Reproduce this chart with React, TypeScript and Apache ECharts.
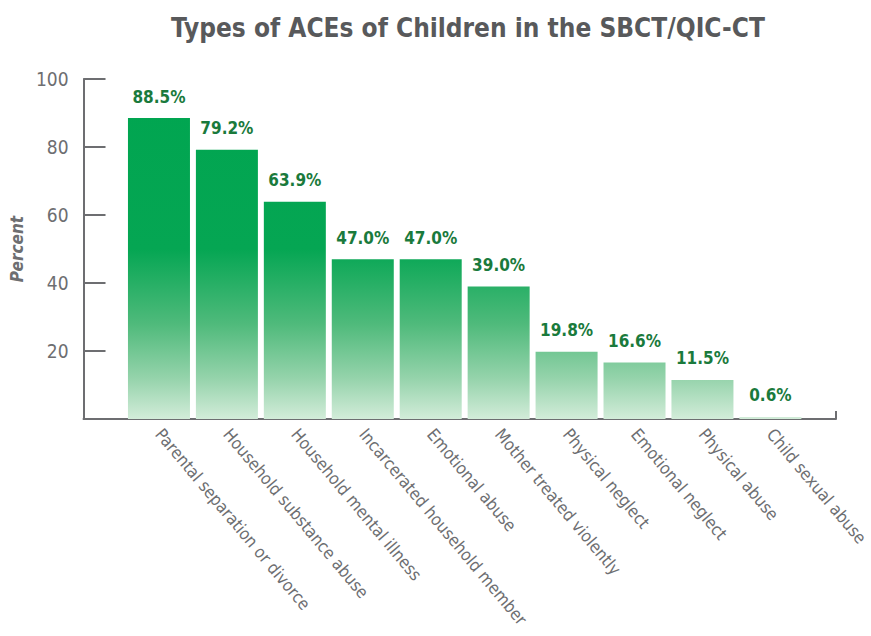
import React, { useEffect, useRef } from "react";
import * as echarts from "echarts";

const categories = [
  "Parental separation or divorce",
  "Household substance abuse",
  "Household mental illness",
  "Incarcerated household member",
  "Emotional abuse",
  "Mother treated violently",
  "Physical neglect",
  "Emotional neglect",
  "Physical abuse",
  "Child sexual abuse",
];
const values = [88.5, 79.2, 63.9, 47.0, 47.0, 39.0, 19.8, 16.6, 11.5, 0.6];
const yTicks = [0, 20, 40, 60, 80, 100];

const FONT = "'DejaVu Sans Condensed', 'Liberation Sans', sans-serif";
const GRAY = "#6d6e71";

export default function App() {
  const ref = useRef<HTMLDivElement>(null);
  useEffect(() => {
    document.body.style.margin = "0";
    const chart = echarts.init(ref.current!, null, { renderer: "svg" });
    const top = 79;
    const height = 340;
    const grad = new echarts.graphic.LinearGradient(
      0, top, 0, top + height,
      [
        { offset: 0, color: "#00a550" },
        { offset: 0.5, color: "#05a653" },
        { offset: 0.72, color: "#4fba7b" },
        { offset: 0.88, color: "#95d3ab" },
        { offset: 1, color: "#d2ecd9" },
      ],
      true
    );
    chart.setOption({
      animation: false,
      textStyle: { fontFamily: FONT },
      title: {
        text: "Types of ACEs of Children in the SBCT/QIC-CT",
        left: 463,
        textAlign: "center",
        top: 10,
        textStyle: { fontFamily: FONT, fontSize: 26, fontWeight: "bold", color: "#58595b" },
      },
      grid: [
        { left: 83, top, width: 753, height },
        { left: 125, top, width: 686, height },
      ],
      xAxis: [
        {
          gridIndex: 0,
          type: "value",
          min: 0,
          max: 1,
          interval: 1,
          axisLine: { show: true, lineStyle: { color: GRAY, width: 2 } },
          axisTick: { show: true, inside: true, length: 8, lineStyle: { color: GRAY, width: 2 } },
          axisLabel: { show: false },
          splitLine: { show: false },
        },
        {
          gridIndex: 1,
          type: "category",
          data: categories,
          axisLine: { show: false },
          axisTick: { show: false },
          axisLabel: {
            interval: 0,
            rotate: -50,
            margin: 12,
            fontSize: 17,
            color: GRAY,
            fontFamily: FONT,
          },
        },
      ],
      yAxis: [
        {
          gridIndex: 0,
          type: "value",
          min: yTicks[0],
          max: yTicks[yTicks.length - 1],
          interval: 20,
          name: "Percent",
          nameLocation: "middle",
          nameGap: 54,
          nameTextStyle: { fontFamily: FONT, fontSize: 17, fontStyle: "italic", fontWeight: "bold", color: GRAY },
          axisLine: { show: true, lineStyle: { color: GRAY, width: 2 } },
          axisTick: { show: true, inside: true, length: 22, lineStyle: { color: GRAY, width: 2 } },
          axisLabel: {
            margin: 15,
            fontSize: 19,
            color: GRAY,
            fontFamily: FONT,
            formatter: (v: number) => (v === 0 ? "" : String(v)),
          },
          splitLine: { show: false },
        },
        {
          gridIndex: 1,
          type: "value",
          min: yTicks[0],
          max: yTicks[yTicks.length - 1],
          show: false,
          splitLine: { show: false },
        },
      ],
      series: [
        {
          type: "bar",
          xAxisIndex: 1,
          yAxisIndex: 1,
          data: values,
          barWidth: 62,
          itemStyle: { color: grad },
          label: {
            show: true,
            position: "top",
            distance: 13,
            fontFamily: FONT,
            fontSize: 17,
            fontWeight: "bold",
            color: "#1a7a3c",
            formatter: (p: any) => p.value.toFixed(1) + "%",
          },
        },
      ],
    });
    return () => chart.dispose();
  }, []);
  return <div ref={ref} style={{ width: 871, height: 636 }} />;
}
